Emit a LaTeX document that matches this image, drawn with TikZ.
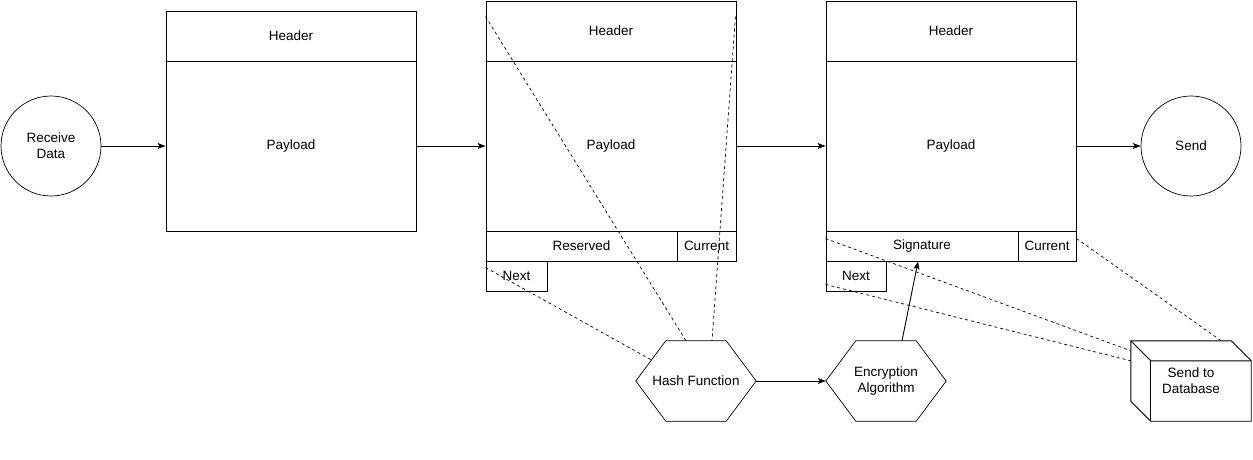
\documentclass[tikz,border=0pt]{standalone}
\usepackage{fontspec}
\setmainfont{Liberation Sans}
\usetikzlibrary{arrows.meta,calc}
\tikzset{
  box/.style={draw, rectangle, inner sep=0pt, line width=0.9pt},
  rnd/.style={draw, circle, inner sep=0pt, minimum size=100pt, line width=0.7pt, align=center},
  hexa/.style={rectangle, inner sep=0pt, minimum width=120pt, minimum height=80pt, align=center},
  flow/.style={line width=0.9pt, -{Stealth[length=8pt,width=6pt,inset=2pt]}},
  dline/.style={line width=0.7pt, dash pattern=on 3pt off 3pt},
  outl/.style={line width=0.7pt},
}
\begin{document}
\begin{tikzpicture}[x=1pt,y=-1pt, font=\fontsize{13.5}{16}\selectfont]
\useasboundingbox (0,0) rectangle (1253,459);
\fill[white] (0,0) rectangle (1253,459);

% start / end
\node[rnd] (recv) at (51,146) {Receive\\Data};
\node[rnd] (send) at (1191,146) {Send};

% block 1
\node[box, minimum width=250pt, minimum height=50pt] (h1) at (291,36) {Header};
\node[box, minimum width=250pt, minimum height=170pt] (p1) at (291,146) {Payload};

% block 2
\node[box, minimum width=250pt, minimum height=60pt] (h2) at (611,31) {Header};
\node[box, minimum width=250pt, minimum height=170pt] (p2) at (611,146) {Payload};
\node[box, minimum width=191pt, minimum height=30pt] (res2) at (581.5,246) {Reserved};
\node[box, minimum width=59pt, minimum height=30pt] (cur2) at (706.5,246) {Current};
\node[box, minimum width=61pt, minimum height=30pt] (next2) at (516.5,276) {Next};

% block 3
\node[box, minimum width=250pt, minimum height=60pt] (h3) at (951,31) {Header};
\node[box, minimum width=250pt, minimum height=170pt] (p3) at (951,146) {Payload};
\node[box, minimum width=192pt, minimum height=30pt] (sig3) at (922,246) {Signature};
\node[box, minimum width=58pt, minimum height=30pt] (cur3) at (1047,246) {Current};
\node[box, minimum width=60pt, minimum height=30pt] (next3) at (856,276) {Next};

% hexagons
\node[hexa] (hash) at (696,381) {Hash Function};
\node[hexa] (enc) at (886,381) {Encryption\\Algorithm};
\foreach \h in {hash,enc}{
  \draw[outl] (\h.west) -- ($(\h.north west)+(30,0)$) -- ($(\h.north east)+(-30,0)$)
    -- (\h.east) -- ($(\h.south east)+(-30,0)$) -- ($(\h.south west)+(30,0)$) -- cycle;
}

% cube
\node[hexa] (db) at (1191,381) {Send to\\Database};
\draw[line width=0.9pt] (db.north west) -- ($(db.north east)+(-20,0)$) -- ($(db.north east)+(0,20)$)
  -- (db.south east) -- ($(db.south west)+(20,0)$) -- ($(db.south west)+(0,-20)$) -- cycle;
\draw[line width=0.9pt] (db.north west) -- ($(db.north west)+(20,20)$) -- ($(db.north east)+(0,20)$);
\draw[line width=0.9pt] ($(db.north west)+(20,20)$) -- ($(db.south west)+(20,0)$);

% main flow
\draw[flow] (recv.east) -- (p1.west);
\draw[flow] (p1.east) -- (p2.west);
\draw[flow] (p2.east) -- (p3.west);
\draw[flow] (p3.east) -- (send.west);
\draw[flow] (hash.east) -- (enc.west);
\draw[flow] ($(enc.north)+(16,0)$) -- ($(sig3.south)+(-4,0)$);

% dashed links
\draw[dline] ($(h2.north west)+(0,16)$) -- ($(hash.north)+(-10,0)$);
\draw[dline] ($(h2.north east)+(-1,16)$) -- ($(hash.north)+(16,0)$);
\draw[dline] ($(next2.north west)+(0,7)$) -- ($(hash.west)+(15.75,-21)$);
\draw[dline] ($(sig3.north west)+(0,8)$) -- ($(db.north west)+(0,10)$);
\draw[dline] ($(next3.south west)+(0,-7)$) -- ($(db.north west)+(0,20)$);
\draw[dline] ($(cur3.north east)+(0,8)$) -- ($(db.north east)+(-30,0)$);
\end{tikzpicture}
\end{document}
